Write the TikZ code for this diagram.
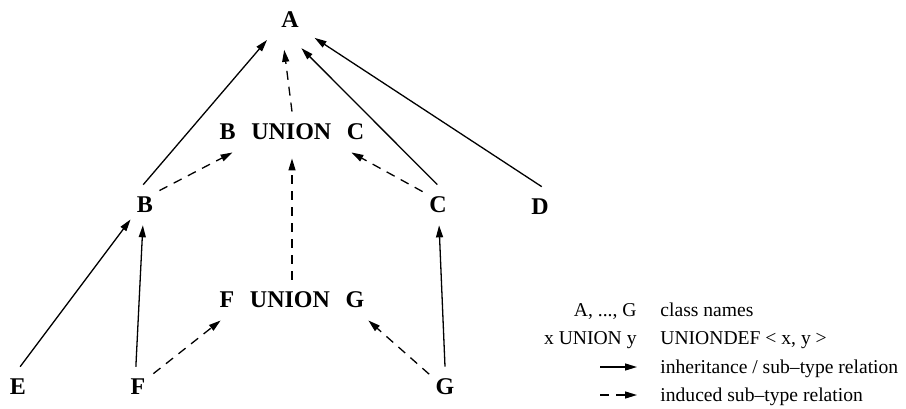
\documentclass[tikz,border=0pt]{standalone}
\usepackage{fontspec}
\setmainfont{Liberation Serif}
\usetikzlibrary{arrows.meta}

\tikzset{
  cls/.style={circle, inner sep=0pt, minimum size=20pt,
    font=\bfseries\fontsize{12}{14}\selectfont},
  uni/.style={rectangle, inner xsep=2pt, inner ysep=6pt,
    font=\bfseries\fontsize{12}{14}\selectfont},
  isa/.style={-{Triangle[length=6pt,width=3.5pt]}, line width=0.65pt},
  ind/.style={isa, dash pattern=on 4.5pt off 3.5pt},
  key/.style={inner sep=0pt, font=\fontsize{9.8}{11}\selectfont},
}

\begin{document}
\begin{tikzpicture}[x=0.5pt,y=-0.5pt]
\useasboundingbox (0,0) rectangle (906,408);

%---------------- CLASSES ----------------
\node[cls, minimum size=30pt] (a) at (290,20) {A};
\node[cls] (b) at (145,205) {B};
\node[cls] (c) at (438,205) {C};
\node[cls] (d) at (540,207) {D};
\node[cls] (e) at (18,387) {E};
\node[cls] (f) at (138,387) {F};
\node[cls] (g) at (445,387) {G};

\node[uni] (buc) at (292,132) {B\hspace{.65em}UNION\hspace{.65em}C};
\node[uni] (fug) at (292,300) {F\hspace{.65em}UNION\hspace{.65em}G};

%---------------- INHERITANCE ----------------
\draw[isa] (b.95) -- (a.221);
\draw[isa] (c.92) -- (a.292);
\draw[isa] (d.85) -- (a.324);
\draw[isa] (e.84) -- (b.225);
\draw[isa] (f.96) -- (b.264);
\draw[isa] (g.90) -- (c.273);

%---------------- INDUCED ----------------
\draw[ind] (buc.north) -- (a.259);
\draw[ind] (b.45) -- (buc.199);
\draw[ind] (c.139) -- (buc.341);
\draw[ind, shorten >=3pt] (fug.north) -- (buc.south);
\draw[ind] (f.41) -- (fug.196);
\draw[ind] (g.141) -- (fug.345);

%---------------- LEGEND ----------------
\node[key, anchor=base east] (k1) at (637,316) {A, ..., G};
\node[key, anchor=base west] (t1) at (660,316) {class names};
\node[key, anchor=base east] (k2) at (637,344) {x UNION y};
\node[key, anchor=base west] (t2) at (660,344) {UNIONDEF < x, y >};

\coordinate (k3a) at (600,367);
\coordinate (k3b) at (637,367);
\draw[isa] (k3a) -- (k3b);
\node[key, anchor=base west] (t3) at (660,373) {inheritance / sub--type relation};

\coordinate (k4a) at (600,395);
\coordinate (k4b) at (637,395);
\draw[ind] (k4a) -- (k4b);
\node[key, anchor=base west] (t4) at (660,401) {induced sub--type relation};

\end{tikzpicture}
\end{document}
